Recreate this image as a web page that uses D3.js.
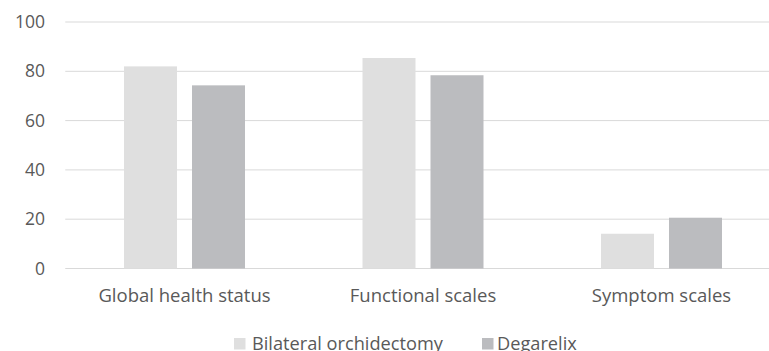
<!DOCTYPE html>
<html>
<head>
<meta charset="utf-8">
<script src="https://cdn.jsdelivr.net/npm/d3@7"></script>
<style>
  html, body { margin: 0; padding: 0; background: #fff; overflow: hidden; }
  text { font-family: "Open Sans", Lato, sans-serif; fill: #595959; }
</style>
</head>
<body>
<svg id="chart" width="769" height="351"></svg>
<script>
const categories = ["Global health status", "Functional scales", "Symptom scales"];
const seriesNames = ["Bilateral orchidectomy", "Degarelix"];
const orchidectomy = [82, 85.4, 14.1];
const degarelix = [74.3, 78.4, 20.6];
const yTicks = [0, 20, 40, 60, 80, 100];
const colors = ["#dfdfdf", "#bbbcbf"];

const svg = d3.select("#chart");

const plotLeft = 65.25, plotRight = 780.75, plotTop = 22, plotBottom = 268.5;

const x0 = d3.scaleBand().domain(categories).range([plotLeft, plotRight]).padding(0);
const groupW = 121;
const x1 = d3.scaleBand().domain(seriesNames).range([0, groupW]).paddingInner(0.2206);
const y = d3.scaleLinear().domain([0, 100]).range([plotBottom, plotTop]);

// gridlines
svg.append("g")
    .selectAll("line")
    .data(yTicks)
    .join("line")
    .attr("x1", plotLeft)
    .attr("x2", plotRight)
    .attr("y1", d => y(d))
    .attr("y2", d => y(d))
    .attr("stroke", "#d9d9d9")
    .attr("stroke-width", 1);

// y tick labels
svg.append("g")
    .selectAll("text")
    .data(yTicks)
    .join("text")
    .attr("x", 45)
    .attr("y", d => y(d))
    .attr("dy", "0.35em")
    .attr("text-anchor", "end")
    .attr("font-size", 17.5)
    .text(d => d);

// bars
const rows = categories.map((c, i) => ({ cat: c, vals: [orchidectomy[i], degarelix[i]] }));
const groups = svg.append("g")
    .selectAll("g")
    .data(rows)
    .join("g")
    .attr("transform", d => `translate(${x0(d.cat) + (x0.bandwidth() - groupW) / 2},0)`);

groups.selectAll("rect")
    .data(d => d.vals.map((v, j) => ({ s: seriesNames[j], v: v, j: j })))
    .join("rect")
    .attr("x", d => x1(d.s))
    .attr("y", d => y(d.v))
    .attr("width", x1.bandwidth())
    .attr("height", d => y(0) - y(d.v))
    .attr("fill", d => colors[d.j]);

// category labels
svg.append("g")
    .selectAll("text")
    .data(categories)
    .join("text")
    .attr("x", d => x0(d) + x0.bandwidth() / 2)
    .attr("y", 302)
    .attr("text-anchor", "middle")
    .attr("font-size", 18.5)
    .text(d => d);

// legend (cut off at the bottom edge, as in the reference)
const legendItems = [
    { name: seriesNames[0], color: colors[0], x: 234, gap: 18 },
    { name: seriesNames[1], color: colors[1], x: 482, gap: 15 }
];
const lg = svg.append("g")
    .selectAll("g")
    .data(legendItems)
    .join("g")
    .attr("transform", d => `translate(${d.x},0)`);
lg.append("rect")
    .attr("x", 0)
    .attr("y", 338)
    .attr("width", 11.5)
    .attr("height", 11.5)
    .attr("fill", d => d.color);
lg.append("text")
    .attr("x", d => d.gap)
    .attr("y", 350)
    .attr("font-size", 18.2)
    .text(d => d.name);
</script>
</body>
</html>
